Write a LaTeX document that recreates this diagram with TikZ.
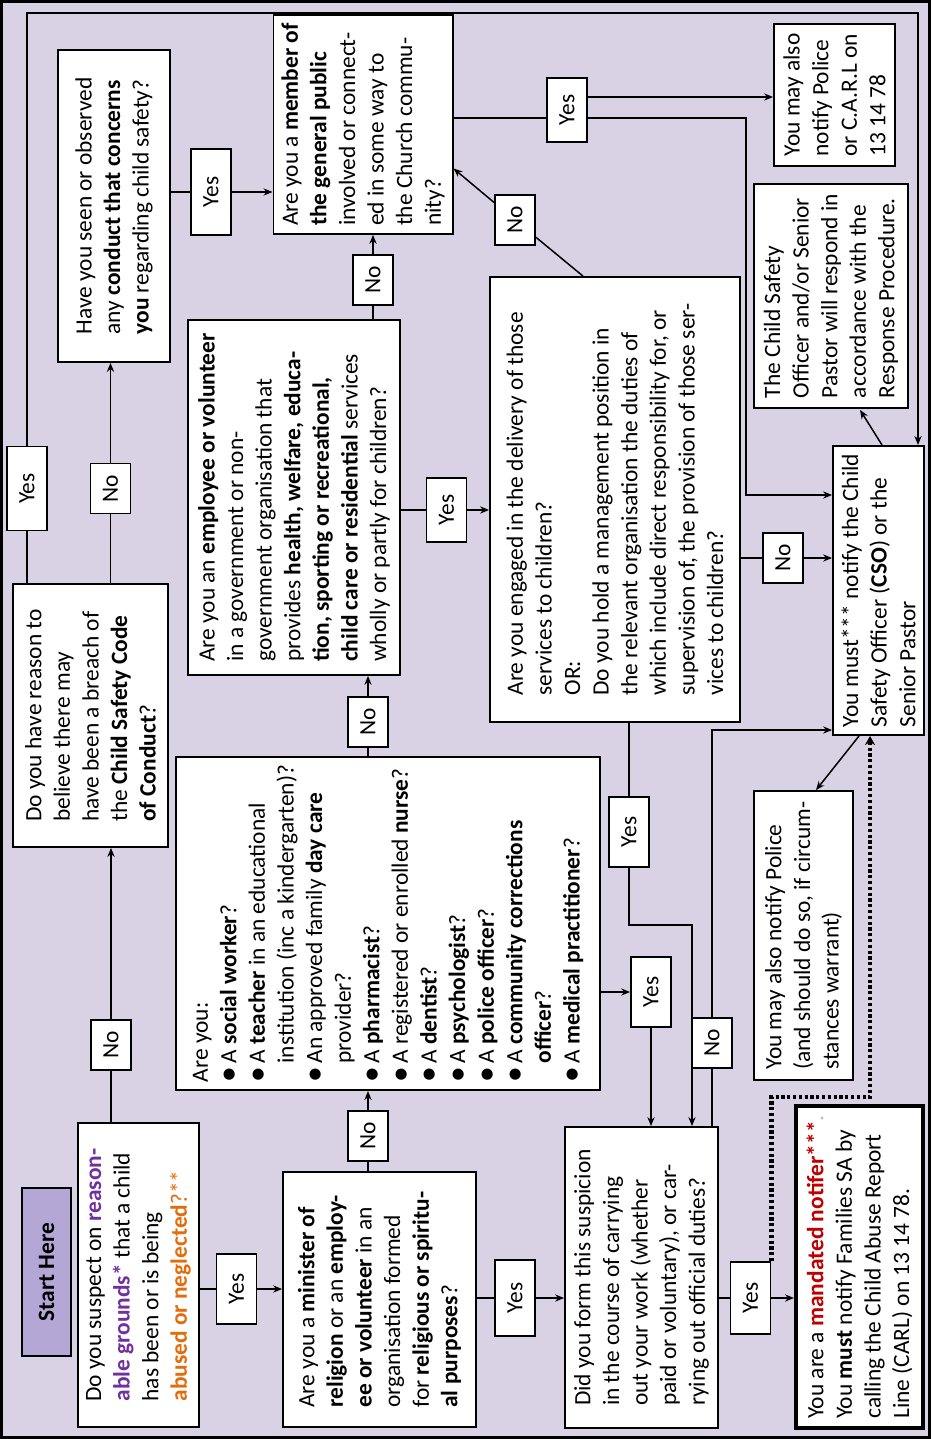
\documentclass[tikz,border=0pt]{standalone}
\usepackage{fontspec}
\setmainfont{Carlito}
\usepackage{xcolor}
\usepackage{tikz}
\usetikzlibrary{arrows.meta,calc}

\definecolor{bglilac}{RGB}{217,210,228}
\definecolor{startfill}{RGB}{180,167,214}
\definecolor{grpurple}{RGB}{112,48,160}
\definecolor{abuseorange}{RGB}{228,108,10}
\definecolor{notifred}{RGB}{192,0,0}
\newcommand{\boxfont}{\fontsize{11.7}{14.3}\selectfont}
\newcommand{\blt}{\makebox[0.8em][l]{\raisebox{-0.2ex}{\scalebox{1.35}{\textbullet}}}}
\newcommand{\bltsp}{\hspace*{0.8em}}

\begin{document}
\begin{tikzpicture}[
x=0.5pt, y=-0.5pt,
box/.style={draw, fill=white, rotate=90, align=left, line width=0.9pt, inner sep=4pt, font=\boxfont},
lab/.style={draw, fill=white, rotate=90, line width=0.9pt, minimum width=25pt, minimum height=20pt, inner sep=1pt, font=\boxfont},
yeslab/.style={lab, minimum width=35pt},
link/.style={line width=0.75pt},
arr/.style={link, -{Stealth[length=4.5pt, width=3.6pt]}},
dotarr/.style={line width=2.4pt, dash pattern=on 1.6pt off 1.3pt, -{Stealth[length=4.5pt, width=5pt]}}
]
\useasboundingbox (0,0) rectangle (931,1439);
\draw[line width=1.2pt, fill=bglilac] (1.5,1.5) rectangle (929.5,1437.5);

% question boxes
\node[box, fill=startfill, align=center, minimum width=84pt, minimum height=24.5pt, font=\boxfont\bfseries] (start) at (46.5,1272) {Start Here};
\node[box, minimum width=152pt, minimum height=60.5pt] (suspect) at (138.5,1275) {Do you suspect on \textcolor{grpurple}{\textbf{reason-}}\\ \textcolor{grpurple}{\textbf{able grounds*}} that a child\\ has been or is being\\ \textcolor{abuseorange}{\textbf{abused or neglected}?**}};
\node[box, minimum width=131.5pt, minimum height=77.5pt] (reason) at (90.5,715.5) {Do you have reason to\\ believe there may\\ have been a breach of\\ the \textbf{Child Safety Code}\\ \textbf{of Conduct}?};
\node[box, minimum width=156pt, minimum height=56pt] (seen) at (114,206) {Have you seen or observed\\ any \textbf{conduct that concerns}\\ \textbf{you} regarding child safety?};
\node[box, minimum width=107.5pt, minimum height=89pt] (public) at (363,124.5) {Are you a \textbf{member of}\\ \textbf{the general public}\\ involved or connect-\\ ed in some way to\\ the Church commu-\\ nity?};
\node[box, minimum width=127.5pt, minimum height=96.5pt] (minister) at (379.5,1299.5) {Are you a \textbf{minister of}\\ \textbf{religion} or an \textbf{employ-}\\ \textbf{ee or volunteer} in an\\ organisation formed\\ for \textbf{religious or spiritu-}\\ \textbf{al purposes}?};
\node[box, minimum width=166.5pt, minimum height=212pt] (profs) at (388,923.5) {Are you:\\ \blt A \textbf{social worker}?\\ \blt A \textbf{teacher} in an educational\\ \bltsp institution (inc a kindergarten)?\\ \blt An approved family \textbf{day care}\\ \bltsp provider?\\ \blt A \textbf{pharmacist}?\\ \blt A registered or enrolled \textbf{nurse}?\\ \blt A \textbf{dentist}?\\ \blt A \textbf{psychologist}?\\ \blt A \textbf{police officer}?\\ \blt A \textbf{community corrections}\\ \bltsp \textbf{officer}?\\ \blt A \textbf{medical practitioner}?};
\node[box, minimum width=177.5pt, minimum height=106pt] (employee) at (294,497.5) {Are you an \textbf{employee or volunteer}\\ in a government or non-\\ government organisation that\\ provides \textbf{health, welfare, educa-}\\ \textbf{tion, sporting or recreational,}\\ \textbf{child care or residential} services\\ wholly or partly for children?};
\node[box, minimum width=222.5pt, minimum height=125pt] (engaged) at (615,499.5) {Are you engaged in the delivery of those\\ services to children?\\ OR:\\ Do you hold a management position in\\ the relevant organisation the duties of\\ which include direct responsibility for, or\\ supervision of, the provision of those ser-\\ vices to children?};
\node[box, minimum width=150.5pt, minimum height=76.5pt] (course) at (641.5,1277.5) {Did you form this suspicion\\ in the course of carrying\\ out your work (whether\\ paid or voluntary), or car-\\ rying out official duties?};

% outcome boxes
\node[box, line width=2pt, minimum width=161pt, minimum height=63.5pt] (mandated) at (859.5,1267) {You are a \textcolor{notifred}{\textbf{mandated notifer***}}\textcolor{black!25}{.}\\ You \textbf{must} notify Families SA by\\ calling the Child Abuse Report\\ Line (CARL) on 13 14 78.};
\node[box, minimum width=144.5pt, minimum height=45.5pt] (cso) at (878.5,590.5) {You must*** notify the Child\\ Safety Officer (\textbf{CSO}) or the\\ Senior Pastor};
\node[box, minimum width=144.5pt, minimum height=49.5pt] (police) at (803.5,935.5) {You may also notify Police\\ (and should do so, if circum-\\ stances warrant)};
\node[box, minimum width=71pt, minimum height=60.5pt] (cari) at (834.5,95) {You may also\\ notify Police\\ or C.A.R.L on\\ 13 14 78};
\node[box, minimum width=112pt, minimum height=77pt] (resp) at (831,296) {The Child Safety\\ Officer and/or Senior\\ Pastor will respond in\\ accordance with the\\ Response Procedure.};

% yes / no labels
\node[yeslab] (yes1) at (236.5,1289) {Yes};
\node[lab] (no1) at (111,1045) {No};
\node[yeslab, minimum width=42pt] (yes2) at (27,488.5) {Yes};
\node[lab] (no2) at (110.5,488.5) {No};
\node[yeslab, minimum width=43pt] (yes3) at (211,192) {Yes};
\node[lab] (no3) at (373,280) {No};
\node[yeslab, minimum width=32pt] (yes4) at (446.5,510) {Yes};
\node[lab] (no4) at (368,722) {No};
\node[lab] (no5) at (368,1136) {No};
\node[yeslab, minimum width=38pt] (yes5) at (515,1298) {Yes};
\node[lab] (no6) at (515,220) {No};
\node[yeslab, minimum width=32pt] (yes6) at (567,110) {Yes};
\node[lab] (no7) at (783,558) {No};
\node[yeslab] (yes7) at (629,832) {Yes};
\node[yeslab] (yes8) at (651,992) {Yes};
\node[lab] (no8) at (712,1043) {No};
\node[yeslab, minimum width=36pt] (yes9) at (750.5,1298) {Yes};

% turning points
\coordinate (topturn) at (918,13);
\coordinate (csoturn) at (746,495);
\coordinate (yesturn) at (692,925);
\coordinate (dotturn) at (870,1097);
\coordinate (yesrow) at (0,118);
\coordinate (carirow) at (0,97);
\coordinate (csolow) at (0,730);
\coordinate (engagedtop) at ($(engaged.east)+(-32,0)$);
\coordinate (publicside) at ($(public.south)+(0,44)$);

% connectors
\draw[link] (no1 |- suspect.east) -- (no1);
\draw[arr] (no1) -- (no1 |- reason.west);
\draw[link] (suspect.south |- yes1) -- (yes1);
\draw[arr] (yes1) -- (yes1 -| minister.north);

\draw[link] (yes2 |- reason.east) -- (yes2);
\draw[arr] (yes2) |- (topturn) -- (topturn |- cso.east);
\draw[link] (no2 |- reason.east) -- (no2);
\draw[arr] (no2) -- (no2 |- seen.west);

\draw[link] (seen.south |- yes3) -- (yes3);
\draw[arr] (yes3) -- (yes3 -| public.north);

\draw[link] (public.south |- yesrow) -- (yes6.north |- yesrow);
\draw[arr] (yes6.south |- carirow) -- (cari.north |- carirow);
\draw[arr] (yes6.south |- yesrow) -| (csoturn) -- (csoturn -| cso.north);

\draw[link] (no3 |- employee.east) -- (no3);
\draw[arr] (no3) -- (no3 |- public.west);
\draw[link] (employee.south |- yes4) -- (yes4);
\draw[arr] (yes4) -- (yes4 -| engaged.north);

\draw[link] (no4 |- profs.east) -- (no4);
\draw[arr] (no4) -- (no4 |- employee.west);
\draw[arr] (profs.south |- yes8) -- (yes8);
\draw[arr] (yes8) -- (yes8 |- course.east);

\draw[link] (no5 |- minister.east) -- (no5);
\draw[arr] (no5) -- (no5 |- profs.west);
\draw[link] (minister.south |- yes5) -- (yes5);
\draw[arr] (yes5) -- (yes5 -| course.north);

\draw[link] (engagedtop) -- (no6);
\draw[arr] (no6) -- (publicside);
\draw[link] (engaged.south |- no7) -- (no7);
\draw[arr] (no7) -- (no7 -| cso.north);
\draw[link] (yes7 |- engaged.west) -- (yes7);
\draw[arr] (yes7) |- (yesturn) -- (yesturn |- course.east);

\draw[link] (no8 |- course.east) -- (no8);
\draw[arr] (no8) |- (cso.north |- csolow);
\draw[link] (course.south |- yes9) -- (yes9);
\draw[arr] (yes9) -- (yes9 -| mandated.north);
\draw[dotarr] (yes9.south east) |- (dotturn) -- (dotturn |- cso.west);

\draw[arr] ($(cso.east)+(3.5,0)$) -- ($(resp.west)+(29,1)$);
\draw[arr] ($(cso.west)+(-19.5,0)$) -- ($(police.east)+(12.5,0)$);
\end{tikzpicture}
\end{document}
